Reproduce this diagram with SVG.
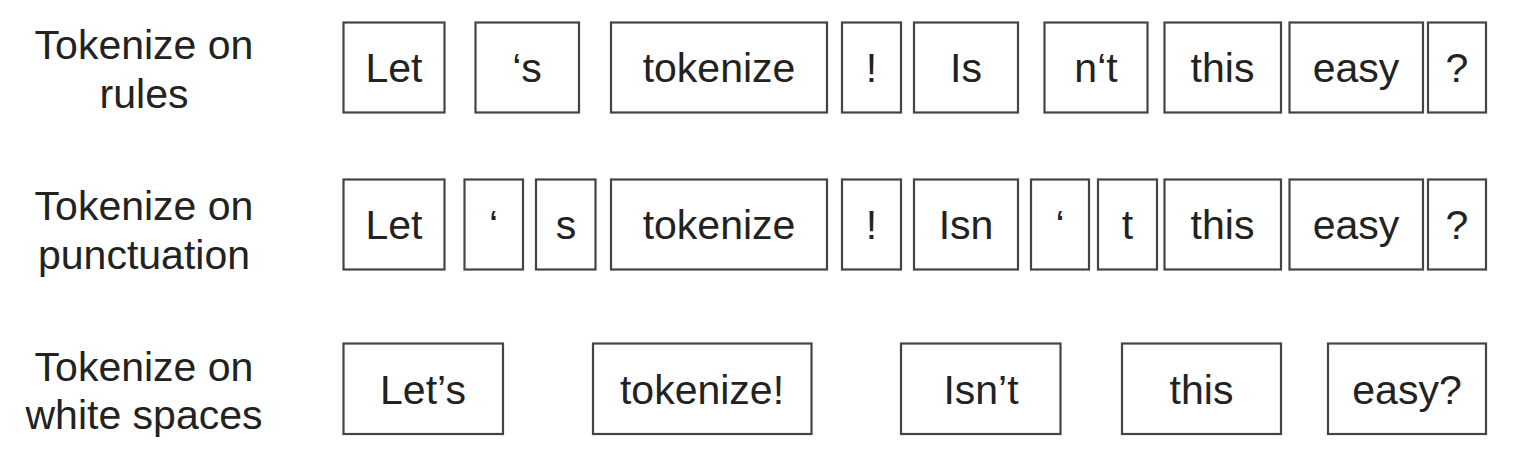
<svg xmlns="http://www.w3.org/2000/svg" width="1527" height="449" viewBox="0 0 1527 449">
<style>
.box{fill:#fff;stroke:#444;stroke-width:2.2}
.t{font-family:"Liberation Sans",Arial,sans-serif;font-size:41px;fill:#222;text-anchor:middle}
</style>
<rect width="1527" height="449" fill="#fff"/>
<g id="labels">
<text class="t" x="144" y="59">Tokenize on</text>
<text class="t" x="144" y="108">rules</text>
<text class="t" x="144" y="220">Tokenize on</text>
<text class="t" x="144" y="269">punctuation</text>
<text class="t" x="144" y="381">Tokenize on</text>
<text class="t" x="144" y="429">white spaces</text>
</g>
<g id="row1">
<g id="r1-let"><rect class="box" x="343.5" y="22.5" width="101" height="90"/><text class="t" x="394" y="82">Let</text></g>
<g id="r1-s"><rect class="box" x="475.5" y="22.5" width="103.5" height="90"/><text class="t" x="527" y="82">‘s</text></g>
<g id="r1-tokenize"><rect class="box" x="611" y="22.5" width="216" height="90"/><text class="t" x="719" y="82">tokenize</text></g>
<g id="r1-excl"><rect class="box" x="842" y="22.5" width="59" height="90"/><text class="t" x="871.5" y="82">!</text></g>
<g id="r1-is"><rect class="box" x="914" y="22.5" width="104" height="90"/><text class="t" x="966" y="82">Is</text></g>
<g id="r1-nt"><rect class="box" x="1044.5" y="22.5" width="103" height="90"/><text class="t" x="1096" y="82">n‘t</text></g>
<g id="r1-this"><rect class="box" x="1164.5" y="22.5" width="116.5" height="90"/><text class="t" x="1222.5" y="82">this</text></g>
<g id="r1-easy"><rect class="box" x="1289.5" y="22.5" width="133.5" height="90"/><text class="t" x="1356" y="82">easy</text></g>
<g id="r1-q"><rect class="box" x="1428" y="22.5" width="58" height="90"/><text class="t" x="1457" y="82">?</text></g>
</g>
<g id="row2">
<g id="r2-let"><rect class="box" x="343.5" y="179.5" width="101" height="90"/><text class="t" x="394" y="239">Let</text></g>
<g id="r2-quote"><rect class="box" x="464.5" y="179.5" width="58.5" height="90"/><text class="t" x="493.5" y="239">‘</text></g>
<g id="r2-s"><rect class="box" x="536" y="179.5" width="59.5" height="90"/><text class="t" x="566" y="239">s</text></g>
<g id="r2-tokenize"><rect class="box" x="611" y="179.5" width="216" height="90"/><text class="t" x="719" y="239">tokenize</text></g>
<g id="r2-excl"><rect class="box" x="842" y="179.5" width="59" height="90"/><text class="t" x="871.5" y="239">!</text></g>
<g id="r2-isn"><rect class="box" x="914" y="179.5" width="104" height="90"/><text class="t" x="966" y="239">Isn</text></g>
<g id="r2-quote2"><rect class="box" x="1031" y="179.5" width="58" height="90"/><text class="t" x="1060" y="239">‘</text></g>
<g id="r2-t"><rect class="box" x="1098" y="179.5" width="59" height="90"/><text class="t" x="1127.5" y="239">t</text></g>
<g id="r2-this"><rect class="box" x="1164.5" y="179.5" width="116.5" height="90"/><text class="t" x="1222.5" y="239">this</text></g>
<g id="r2-easy"><rect class="box" x="1289.5" y="179.5" width="133.5" height="90"/><text class="t" x="1356" y="239">easy</text></g>
<g id="r2-q"><rect class="box" x="1428" y="179.5" width="58" height="90"/><text class="t" x="1457" y="239">?</text></g>
</g>
<g id="row3">
<g id="r3-lets"><rect class="box" x="343.5" y="343.5" width="159.5" height="90.5"/><text class="t" x="423" y="403.5">Let’s</text></g>
<g id="r3-tokenize"><rect class="box" x="593" y="343.5" width="218.5" height="90.5"/><text class="t" x="702" y="403.5">tokenize!</text></g>
<g id="r3-isnt"><rect class="box" x="901" y="343.5" width="159.5" height="90.5"/><text class="t" x="981" y="403.5">Isn’t</text></g>
<g id="r3-this"><rect class="box" x="1122" y="343.5" width="159" height="90.5"/><text class="t" x="1201.5" y="403.5">this</text></g>
<g id="r3-easy"><rect class="box" x="1328" y="343.5" width="158" height="90.5"/><text class="t" x="1407" y="403.5">easy?</text></g>
</g>
</svg>
